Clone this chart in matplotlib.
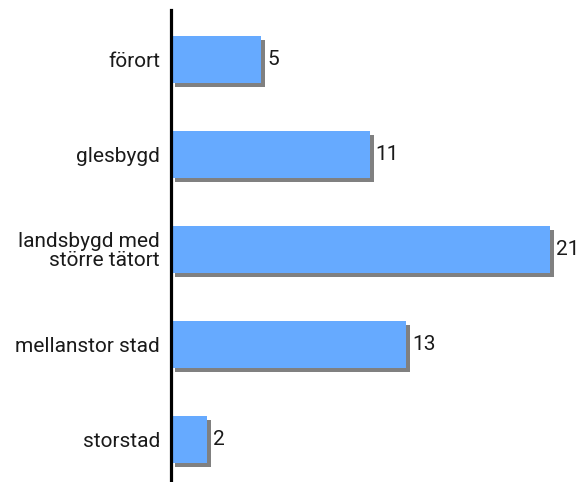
import matplotlib
matplotlib.use("Agg")
import matplotlib.pyplot as plt
import matplotlib.patheffects as pe

categories = ["förort", "glesbygd", "landsbygd med\nstörre tätort", "mellanstor stad", "storstad"]
values = [5, 11, 21, 13, 2]

plt.rcParams['font.family'] = ['Roboto', 'DejaVu Sans']

W, H = 581, 482
fig = plt.figure(figsize=(W/100, H/100), dpi=100)
ax = fig.add_axes([171/W, 0, 1 - 171/W, (H-10)/H])

y = list(range(len(categories)))
bars = ax.barh(y, values, height=0.5, color="#66aaff", zorder=3,
               path_effects=[pe.SimplePatchShadow(offset=(2.9, -2.9), shadow_rgbFace="#808080", alpha=1.0), pe.Normal()])
ax.set_ylim(4.45, -0.52)
ax.set_xlim(0, (W-171)/18.05)
ax.set_yticks(y)
ax.set_yticklabels(categories, fontsize=15, fontweight="normal", ha="right",
                   multialignment="right", linespacing=1.0, color="#1a1a1a")
ax.tick_params(axis="y", length=0, pad=8)
ax.set_xticks([])
for s in ["top", "right", "bottom"]:
    ax.spines[s].set_visible(False)
ax.spines["left"].set_linewidth(2.3)
ax.spines["left"].set_zorder(5)

for yi, v in zip(y, values):
    ax.annotate(str(v), (v, yi), xytext=(4.5, 0), textcoords="offset points",
                va="center", ha="left", fontsize=15, fontweight="normal", color="#1a1a1a")

fig.savefig("out.png", dpi=100)
